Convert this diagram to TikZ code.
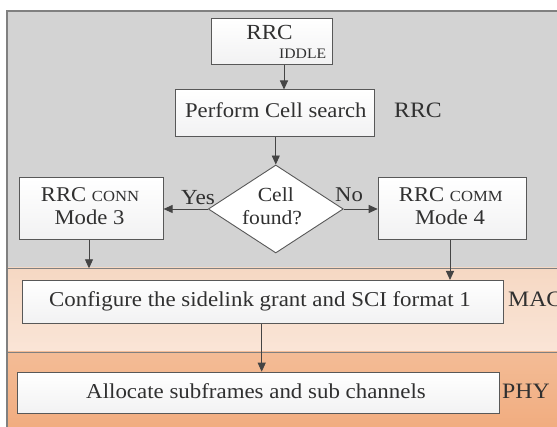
\documentclass[tikz,border=0pt]{standalone}
\usepackage{fontspec}
\usepackage{graphicx}
\setmainfont{Liberation Serif}
\newcommand\widetxt[1]{\scalebox{1.08}[1]{#1}}
\usetikzlibrary{shapes.geometric,arrows.meta}
\definecolor{bggray}{HTML}{D3D3D3}
\definecolor{macA}{HTML}{F6D8C3}
\definecolor{macB}{HTML}{FAE5D7}
\definecolor{phyA}{HTML}{F3BC96}
\definecolor{phyB}{HTML}{F1AA7C}
\definecolor{framec}{HTML}{808080}
\definecolor{edgec}{HTML}{585858}
\definecolor{arrc}{HTML}{444444}
\definecolor{txtc}{HTML}{303030}
\tikzset{
  boxst/.style={draw=edgec, line width=0.9pt, top color=white, bottom color=blue!3!gray!10, inner sep=0pt, anchor=north west},
  arr/.style={-{Triangle[length=9pt,width=8pt]}, draw=arrc, line width=0.9pt},
  txt/.style={inner sep=0pt, anchor=base, text=txtc, font=\fontsize{21}{23}\selectfont},
  lay/.style={txt, anchor=base west, font=\fontsize{22}{24}\selectfont},
}
\begin{document}
\begin{tikzpicture}[x=1pt,y=-1pt]
\useasboundingbox (0,0) rectangle (557,427);
\begin{scope}
\clip (0,0) rectangle (557,427);
\fill[white] (0,0) rectangle (557,427);
\fill[bggray] (7,11) rectangle (570,268);
\shade[top color=macA, bottom color=macB] (7,268) rectangle (570,352);
\shade[top color=phyA, bottom color=phyB] (7,352) rectangle (570,440);
\draw[framec, line width=0.8pt] (7,268) -- (570,268);
\draw[framec, line width=0.8pt] (7,352) -- (570,352);
\draw[framec, line width=1.6pt] (7,440) -- (7,11) -- (570,11);
\end{scope}
% boxes
\node[boxst, minimum width=121pt, minimum height=45.7pt] (idle) at (210.7,18.3) {};
\node[txt, font=\fontsize{21.5}{23}\selectfont] (idlet) at (269.5,40) {\widetxt{RRC}};
\node[txt, font=\fontsize{14.5}{16}\selectfont] (idles) at (302.7,58.5) {\widetxt{IDDLE}};
\node[boxst, minimum width=199.3pt, minimum height=47pt] (search) at (175,89.5) {};
\node[txt] (searcht) at (275.8,117.5) {\widetxt{Perform Cell search}};
\node[lay] (rrcl) at (394,118) {\widetxt{RRC}};
\node[diamond, draw=edgec, line width=0.9pt, fill=white, minimum width=135pt, minimum height=88pt, inner sep=0pt, aspect=1.53] (cell) at (275.8,209) {};
\node[txt, font=\fontsize{20}{22}\selectfont] (cellt1) at (275.8,201.7) {\widetxt{Cell}};
\node[txt, font=\fontsize{20}{22}\selectfont] (cellt2) at (272,225) {\widetxt{found?}};
\node[boxst, minimum width=143.4pt, minimum height=61.7pt] (conn) at (19.3,177.3) {};
\node[txt] (connt1) at (90,201.7) {\widetxt{RRC {\fontsize{15.4}{17}\selectfont CONN}}};
\node[txt] (connt2) at (89.5,225) {\widetxt{Mode 3}};
\node[boxst, minimum width=148pt, minimum height=61.7pt] (comm) at (377.7,177.3) {};
\node[txt] (commt1) at (450.8,201.7) {\widetxt{RRC {\fontsize{15.4}{17}\selectfont COMM}}};
\node[txt] (commt2) at (450,225) {\widetxt{Mode 4}};
\node[boxst, minimum width=481.6pt, minimum height=42.7pt] (conf) at (21.7,280) {};
\node[txt, font=\fontsize{21.2}{23}\selectfont] (conft) at (260,306.7) {\widetxt{Configure the sidelink grant and SCI format 1}};
\node[lay] (macl) at (508,306.7) {\widetxt{MAC}};
\node[boxst, minimum width=482.3pt, minimum height=41.6pt] (alloc) at (16.7,371.7) {};
\node[txt, font=\fontsize{21.2}{23}\selectfont] (alloct) at (256,398.3) {\widetxt{Allocate subframes and sub channels}};
\node[lay] (phyl) at (502,398.3) {\widetxt{PHY}};
% edges
\draw[arr] (idle.south -| 284,0) -- (search.north -| 284,0);
\draw[arr] (search.south -| cell.north) -- (cell.north);
\draw[arr] (cell.west) -- (conn.east |- cell.west);
\draw[arr] (cell.east) -- (comm.west |- cell.east);
\node[txt, font=\fontsize{21.5}{23}\selectfont] (yes) at (198,205) {\widetxt{Yes}};
\node[txt, font=\fontsize{21}{23}\selectfont] (no) at (349,202) {\widetxt{No}};
\coordinate (c1) at (89,268.3);
\draw[arr] (conn.south -| c1) -- (c1);
\draw[arr] (comm.south -| 450,0) -- (conf.north -| 450,0);
\draw[arr] (conf.south -| 261.7,0) -- (alloc.north -| 261.7,0);
\end{tikzpicture}
\end{document}
